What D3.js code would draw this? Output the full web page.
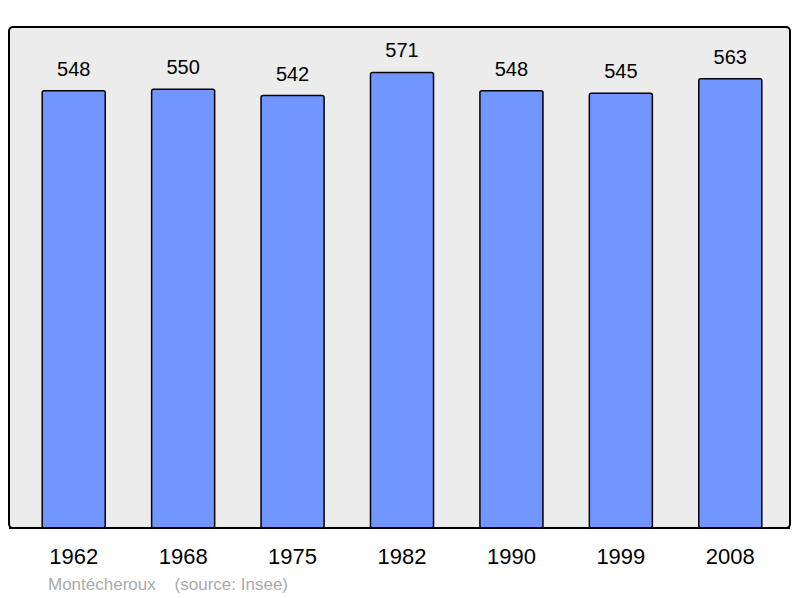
<!DOCTYPE html>
<html><head><meta charset="utf-8">
<script src="https://cdn.jsdelivr.net/npm/d3@7"></script>
<style>body{margin:0;background:#fff}svg{display:block}</style>
</head><body>
<script>
const years = ["1962","1968","1975","1982","1990","1999","2008"];
const population = [548,550,542,571,548,545,563];
const commune = "Montécheroux";
const source = "(source: Insee)";

const W=800,H=598;
const svg=d3.select("body").append("svg").attr("width",W).attr("height",H);
const font="'Liberation Sans', Arial, sans-serif";

svg.append("rect").attr("x",9).attr("y",27).attr("width",781).attr("height",501)
  .attr("rx",4).attr("fill","#ececec").attr("stroke","#000").attr("stroke-width",2);

const x=d3.scaleBand().domain(years).range([19,785]).paddingInner(0.424).paddingOuter(0.212);
const y=d3.scaleLinear().domain([0,628]).range([528,27]);

const g=svg.append("g");
g.selectAll("rect.bar").data(population).join("rect").attr("class","bar")
  .attr("x",(d,i)=>x(years[i])).attr("y",d=>y(d))
  .attr("width",x.bandwidth()).attr("height",d=>y(0)-y(d))
  .attr("rx",2).attr("fill","#7196ff").attr("stroke","#000").attr("stroke-width",1.5);

g.selectAll("text.val").data(population).join("text").attr("class","val")
  .attr("x",(d,i)=>x(years[i])+x.bandwidth()/2).attr("y",d=>y(d)-15)
  .attr("text-anchor","middle").attr("font-family",font).attr("font-size",20).attr("fill","#000")
  .text(d=>d);

svg.append("line").attr("x1",9).attr("x2",790).attr("y1",528).attr("y2",528).attr("stroke","#000").attr("stroke-width",2);

const axis=d3.axisBottom(x).tickSize(0).tickPadding(0);
const ax=svg.append("g").attr("transform","translate(0,564)").call(axis);
ax.select(".domain").remove();
ax.selectAll("text").attr("font-family",font).attr("font-size",22).attr("fill","#000").attr("dy",0);

svg.append("text").attr("x",48).attr("y",590).attr("font-family",font).attr("font-size",17)
  .attr("fill","#aaaaaa").attr("xml:space","preserve").style("white-space","pre")
  .text(commune+"    "+source);
</script>
</body></html>
